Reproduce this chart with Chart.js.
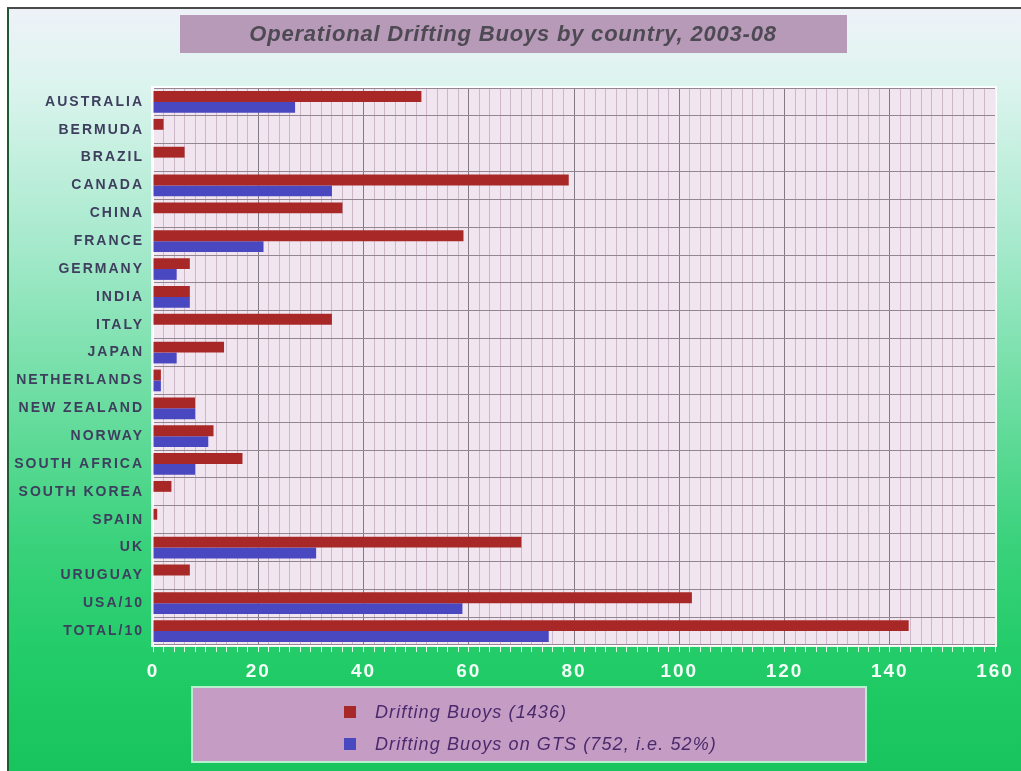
<!DOCTYPE html>
<html>
<head>
<meta charset="utf-8">
<script src="https://cdn.jsdelivr.net/npm/chart.js@4.4.1/dist/chart.umd.min.js"></script>
<style>
  html, body { margin: 0; padding: 0; background: #ffffff; }
  #frame {
    position: absolute; left: 7px; top: 7px; width: 1014px; height: 764px;
    border-top: 2px solid #4a4a4a; border-left: 2px solid #1d5a32;
    box-sizing: border-box;
    background: linear-gradient(to bottom, #eef2f8 0%, #dcf4ee 10%, #a8eace 30%, #70dea4 50%, #3ad27c 70%, #22cc68 85%, #18c45e 100%);
  }
  #c { position: absolute; left: 0; top: 0; }
</style>
</head>
<body>
<div id="frame"></div>
<canvas id="c" width="1021" height="771"></canvas>
<script>
const chartTitle = 'Operational Drifting Buoys by country, 2003-08';
const categories = ['AUSTRALIA','BERMUDA','BRAZIL','CANADA','CHINA','FRANCE','GERMANY','INDIA','ITALY','JAPAN','NETHERLANDS','NEW ZEALAND','NORWAY','SOUTH AFRICA','SOUTH KOREA','SPAIN','UK','URUGUAY','USA/10','TOTAL/10'];
const driftingBuoys = [51, 2, 6, 79, 36, 59, 7, 7, 34, 13.5, 1.5, 8, 11.5, 17, 3.5, 0.8, 70, 7, 102.4, 143.6];
const buoysOnGTS   = [27, 0, 0, 34, 0, 21, 4.5, 7, 0, 4.5, 1.5, 8, 10.5, 8, 0, 0, 31, 0, 58.8, 75.2];
const seriesNames = ['Drifting Buoys (1436)', 'Drifting Buoys on GTS (752, i.e. 52%)'];
const xTickValues = [0, 20, 40, 60, 80, 100, 120, 140, 160];

const RED = '#a82828', BLUE = '#4a48c0';

const boxesPlugin = {
  id: 'boxes',
  beforeDraw(chart) {
    const ctx = chart.ctx;
    const a = chart.chartArea;
    ctx.save();
    ctx.fillStyle = '#f1e6ef';
    ctx.fillRect(a.left, a.top, a.right - a.left, a.bottom - a.top);
    ctx.restore();
    ctx.letterSpacing = '2px';
  },
  afterDraw(chart) {
    const ctx = chart.ctx;
    const a = chart.chartArea;
    ctx.save();
    ctx.letterSpacing = '0px';
    ctx.strokeStyle = 'rgba(255,255,255,0.9)';
    ctx.lineWidth = 2;
    ctx.strokeRect(a.left - 1, a.top - 1, a.right - a.left + 2, a.bottom - a.top + 2);
    // title box
    ctx.fillStyle = '#b79ab7';
    ctx.fillRect(180, 15, 667, 38);
    ctx.fillStyle = '#4e4a54';
    ctx.font = 'italic bold 22px "Liberation Sans", Arial, sans-serif';
    ctx.letterSpacing = '0.8px';
    ctx.textAlign = 'center';
    ctx.textBaseline = 'middle';
    ctx.fillText(chartTitle, 513, 35);
    // legend box
    ctx.letterSpacing = '0px';
    ctx.fillStyle = '#c49cc4';
    ctx.fillRect(192, 687, 674, 75);
    ctx.strokeStyle = '#b6f0cc';
    ctx.lineWidth = 2;
    ctx.strokeRect(192, 687, 674, 75);
    const items = chart.data.datasets;
    ctx.font = 'italic 18px "Liberation Sans", Arial, sans-serif';
    ctx.letterSpacing = '1.1px';
    ctx.textAlign = 'left';
    items.forEach((ds, i) => {
      const y = 712 + i * 32;
      ctx.fillStyle = ds.backgroundColor;
      ctx.fillRect(344, y - 6, 12, 12);
      ctx.fillStyle = '#4a2a6c';
      ctx.fillText(ds.label, 375, y + 1);
    });
    ctx.restore();
    ctx.letterSpacing = '0px';
  }
};

new Chart(document.getElementById('c'), {
  type: 'bar',
  data: {
    labels: categories,
    datasets: [
      { label: seriesNames[0], data: driftingBuoys, backgroundColor: RED, borderWidth: 0 },
      { label: seriesNames[1], data: buoysOnGTS, backgroundColor: BLUE, borderWidth: 0 }
    ]
  },
  options: {
    indexAxis: 'y',
    responsive: false,
    animation: false,
    events: [],
    categoryPercentage: 0.78,
    barPercentage: 1.0,
    layout: { padding: { top: 88, right: 26, bottom: 86, left: 0 } },
    plugins: {
      legend: { display: false },
      title: { display: false },
      tooltip: { enabled: false }
    },
    scales: {
      x: {
        min: 0, max: 160,
        afterBuildTicks(scale) {
          const t = [];
          for (let v = 0; v <= 160; v += 2) t.push({ value: v });
          scale.ticks = t;
        },
        afterFit(scale) { scale.height = 40; },
        ticks: {
          autoSkip: false, maxRotation: 0, padding: 8,
          color: '#f4fff8',
          font: { family: '"Liberation Sans", Arial, sans-serif', size: 19, weight: 'bold' },
          callback: (v) => (xTickValues.includes(v) ? String(v) : '')
        },
        grid: {
          color: (c) => (c.tick && c.tick.value % 20 === 0 ? '#847a86' : '#cdb8ca'),
          lineWidth: 1,
          tickColor: '#e4fbee',
          tickLength: 7
        },
        border: { color: '#ffffff', width: 1 }
      },
      y: {
        afterFit(scale) { scale.width = 153; },
        ticks: {
          padding: 9,
          color: '#3e3e5e',
          font: { family: '"Liberation Sans", Arial, sans-serif', size: 14, weight: 'bold' }
        },
        grid: {
          color: '#948690',
          lineWidth: 1,
          drawTicks: false
        },
        border: { color: '#ffffff', width: 1 }
      }
    }
  },
  plugins: [boxesPlugin]
});
</script>
</body>
</html>
